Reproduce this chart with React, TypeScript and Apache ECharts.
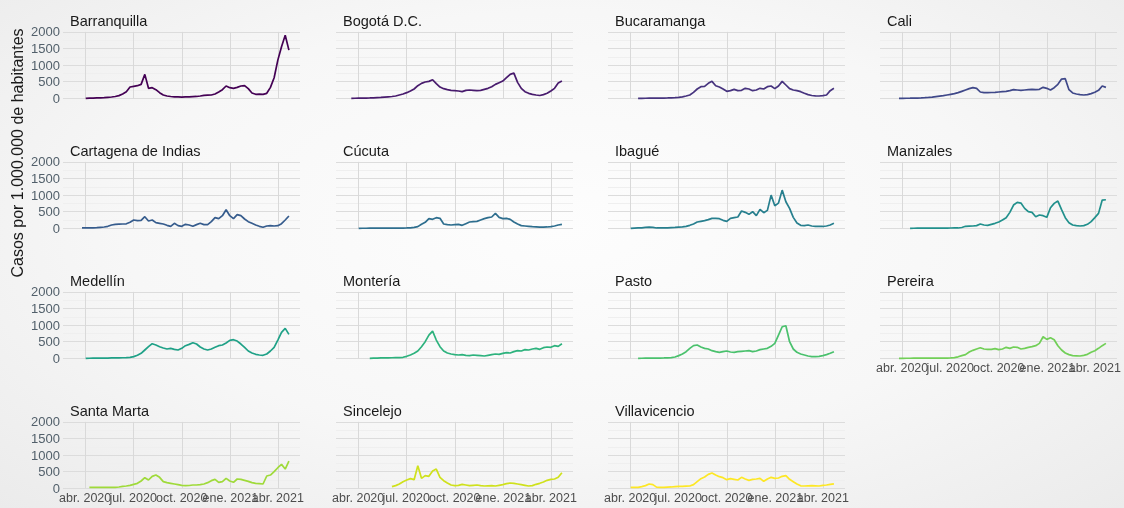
import React, { useEffect, useRef } from 'react';
import * as echarts from 'echarts';

// Weekly sampling: first date 2020-03-12, one point every 7 days (59 points, to 2021-04-22)
const START_DATE = Date.UTC(2020, 2, 12);
const STEP_MS = 7 * 86400000;
const X_MIN = Date.UTC(2020, 1, 19);
const X_MAX = Date.UTC(2021, 4, 13);
const TICK_DATES = [Date.UTC(2020, 3, 1), Date.UTC(2020, 6, 1), Date.UTC(2020, 9, 1), Date.UTC(2021, 0, 1), Date.UTC(2021, 3, 1)];
const TICK_LABELS = ['abr. 2020', 'jul. 2020', 'oct. 2020', 'ene. 2021', 'abr. 2021'];
const Y_MAX = 2000;
const Y_STEP = 500;

const CITIES = [
  'Barranquilla', 'Bogotá D.C.', 'Bucaramanga', 'Cali',
  'Cartagena de Indias', 'Cúcuta', 'Ibagué', 'Manizales',
  'Medellín', 'Montería', 'Pasto', 'Pereira',
  'Santa Marta', 'Sincelejo', 'Villavicencio',
];

const COLORS = [
  '#440154', '#481B6D', '#46337E', '#3F4889', '#365C8D', '#2E6E8E', '#277F8E', '#21908C',
  '#1FA187', '#2DB27D', '#4AC16D', '#71CF57', '#9FDA3A', '#CFE11C', '#FDE725',
];

const barranquilla = [null, null, null, 0, 5, 5, 10, 15, 20, 30, 40, 55, 80, 130, 200, 340, 360, 380, 420, 720, 300, 320, 260, 170, 100, 70, 55, 45, 40, 35, 40, 45, 50, 55, 70, 90, 95, 100, 130, 190, 260, 370, 320, 300, 330, 370, 380, 290, 160, 120, 125, 120, 150, 330, 620, 1150, 1550, 1900, 1450];
const bogota = [null, 0, 2, 4, 6, 8, 10, 15, 20, 25, 35, 45, 55, 70, 100, 130, 170, 220, 280, 380, 450, 490, 510, 560, 440, 340, 290, 260, 240, 230, 220, 200, 240, 250, 240, 230, 240, 270, 300, 350, 420, 470, 520, 620, 720, 760, 480, 300, 200, 150, 120, 100, 85, 110, 150, 220, 300, 460, 520];
const bucaramanga = [null, null, null, null, null, 0, 0, 2, 3, 4, 5, 5, 8, 10, 15, 20, 30, 45, 70, 100, 180, 280, 350, 360, 450, 510, 380, 340, 280, 210, 230, 270, 230, 240, 300, 280, 230, 250, 300, 280, 350, 370, 290, 370, 510, 400, 290, 250, 230, 200, 150, 110, 85, 75, 70, 80, 100, 230, 300];
const cali = [null, null, 0, 0, 2, 3, 5, 8, 12, 18, 25, 35, 50, 65, 80, 100, 120, 140, 170, 210, 250, 290, 320, 300, 190, 170, 170, 175, 180, 190, 200, 210, 230, 260, 250, 240, 250, 260, 270, 260, 270, 330, 300, 250, 320, 420, 580, 590, 260, 160, 130, 110, 100, 110, 140, 180, 240, 370, 330];
const cartagena = [null, null, 10, 10, 15, 15, 20, 30, 40, 60, 100, 120, 125, 130, 135, 180, 250, 230, 240, 350, 220, 250, 170, 150, 130, 90, 60, 150, 80, 60, 120, 100, 60, 110, 150, 110, 110, 200, 320, 290, 380, 560, 380, 290, 410, 380, 280, 200, 150, 100, 60, 30, 70, 80, 70, 80, 140, 250, 370];
const cucuta = [null, null, null, 0, 2, 2, 3, 3, 4, 4, 5, 5, 5, 6, 6, 8, 10, 15, 30, 50, 120, 180, 290, 270, 320, 300, 130, 110, 100, 110, 120, 90, 140, 190, 200, 210, 250, 290, 320, 340, 450, 330, 290, 300, 270, 190, 130, 80, 70, 60, 50, 45, 35, 35, 40, 50, 70, 100, 120];
const ibague = [null, null, null, 0, 5, 10, 15, 30, 35, 30, 10, 10, 10, 15, 20, 25, 35, 45, 60, 90, 130, 190, 210, 230, 260, 300, 300, 290, 240, 210, 300, 320, 340, 520, 480, 420, 500, 380, 570, 470, 540, 1000, 680, 760, 1150, 800, 600, 330, 160, 90, 80, 100, 70, 60, 55, 55, 70, 100, 150];
const manizales = [null, null, null, null, null, 0, 2, 3, 4, 5, 5, 6, 6, 7, 8, 8, 9, 10, 10, 25, 60, 65, 70, 80, 130, 100, 90, 120, 150, 190, 250, 320, 480, 700, 780, 760, 600, 500, 480, 350, 400, 380, 330, 620, 750, 820, 560, 320, 170, 100, 80, 70, 80, 120, 200, 320, 450, 850, 860];
const medellin = [null, null, null, 0, 2, 3, 4, 5, 6, 8, 10, 12, 14, 16, 20, 30, 50, 90, 150, 250, 350, 440, 400, 350, 310, 280, 300, 270, 250, 300, 380, 420, 470, 430, 340, 280, 250, 280, 330, 380, 400, 460, 540, 560, 520, 430, 330, 220, 160, 120, 100, 90, 130, 220, 330, 550, 780, 900, 720];
const monteria = [null, null, null, null, null, null, 0, 5, 8, 10, 12, 14, 16, 18, 20, 30, 60, 100, 150, 220, 350, 500, 700, 820, 550, 350, 220, 160, 130, 110, 100, 110, 90, 80, 100, 90, 80, 70, 90, 110, 130, 120, 150, 170, 160, 200, 230, 220, 260, 250, 280, 300, 270, 320, 340, 330, 380, 360, 440];
const pasto = [null, null, null, null, null, 0, 2, 3, 4, 5, 6, 8, 10, 15, 20, 40, 80, 130, 200, 300, 380, 400, 340, 300, 280, 230, 200, 180, 200, 220, 190, 180, 200, 210, 220, 230, 200, 220, 260, 280, 300, 360, 450, 700, 950, 980, 500, 280, 180, 130, 100, 70, 50, 50, 60, 80, 110, 150, 200];
const pereira = [null, null, 0, 0, 2, 2, 3, 3, 4, 4, 5, 5, 6, 6, 7, 8, 10, 20, 45, 80, 110, 190, 240, 280, 320, 280, 270, 270, 290, 260, 280, 330, 300, 340, 330, 280, 300, 330, 350, 380, 450, 650, 570, 620, 560, 380, 250, 160, 110, 80, 75, 70, 90, 120, 180, 230, 300, 380, 450];
const santaMarta = [null, null, null, null, 30, 30, 30, 25, 25, 25, 30, 30, 40, 60, 70, 90, 120, 150, 220, 320, 250, 360, 400, 330, 200, 170, 150, 130, 110, 90, 80, 85, 100, 100, 110, 130, 170, 230, 270, 180, 200, 300, 220, 180, 280, 270, 240, 210, 170, 150, 140, 130, 370, 400, 500, 620, 720, 580, 820];
const sincelejo = [null, null, null, null, null, null, null, null, null, null, null, null, 50, 80, 130, 200, 250, 290, 260, 680, 300, 380, 360, 520, 580, 330, 230, 160, 100, 80, 90, 120, 100, 80, 90, 100, 80, 70, 75, 80, 70, 90, 110, 140, 160, 150, 130, 110, 90, 70, 80, 120, 150, 190, 240, 270, 280, 330, 470];
const villavicencio = [null, null, null, 30, 30, 30, 50, 80, 130, 110, 35, 30, 30, 35, 40, 50, 55, 60, 65, 70, 110, 200, 290, 340, 420, 460, 400, 350, 320, 260, 290, 270, 250, 330, 280, 240, 270, 280, 300, 210, 280, 330, 300, 310, 360, 380, 270, 200, 130, 75, 70, 75, 80, 75, 70, 90, 100, 120, 135];

const SERIES_VALUES = [
  barranquilla, bogota, bucaramanga, cali,
  cartagena, cucuta, ibague, manizales,
  medellin, monteria, pasto, pereira,
  santaMarta, sincelejo, villavicencio,
];

const FONT = "'Liberation Sans', Arial, Helvetica, sans-serif";
const COL_LEFT = [63, 336, 608, 880];
const PANEL_W = 237;
const ROW_TOP = 31.9;
const ROW_STEP = 130;
const PANEL_H = 66.4;

export default function App() {
  const ref = useRef<HTMLDivElement>(null);
  useEffect(() => {
    if (!ref.current) return;
    const chart = echarts.init(ref.current, null, { renderer: 'svg' });
    const n = CITIES.length;
    const grids: any[] = [];
    const xAxes: any[] = [];
    const yAxes: any[] = [];
    const series: any[] = [];
    const titles: any[] = [];
    for (let k = 0; k < n; k++) {
      const row = Math.floor(k / 4);
      const col = k % 4;
      const showX = k + 4 >= n;
      grids.push({
        left: COL_LEFT[col],
        top: ROW_TOP + ROW_STEP * row,
        width: PANEL_W,
        height: PANEL_H,
        containLabel: false,
      });
      xAxes.push({
        type: 'time',
        gridIndex: k,
        min: X_MIN,
        max: X_MAX,
        axisLine: { show: false },
        axisTick: { show: false },
        splitLine: { show: false },
        axisLabel: { show: false },
      });
      yAxes.push({
        type: 'value',
        gridIndex: k,
        min: 0,
        max: Y_MAX,
        interval: Y_STEP,
        axisLine: { show: false },
        axisTick: { show: false },
        splitLine: { show: true, lineStyle: { color: '#dcdcdc', width: 1 } },
        minorTick: { show: false, splitNumber: 2 },
        minorSplitLine: { show: true, lineStyle: { color: '#efefef', width: 1 } },
        axisLabel: {
          show: col === 0,
          margin: 3,
          fontSize: 13,
          color: '#52606b',
          fontFamily: FONT,
          formatter: (v: number) => String(v),
        },
      });
      const vals = SERIES_VALUES[k];
      const data: [number, number][] = [];
      vals.forEach((v, i) => {
        if (v !== null && v !== undefined) data.push([START_DATE + i * STEP_MS, v as number]);
      });
      series.push({
        type: 'line',
        name: CITIES[k],
        xAxisIndex: k,
        yAxisIndex: k,
        data,
        showSymbol: false,
        clip: false,
        lineStyle: { color: COLORS[k], width: 1.7 },
        itemStyle: { color: COLORS[k] },
        z: 3,
        markLine: {
          silent: true,
          symbol: ['none', 'none'],
          z: 1,
          animation: false,
          lineStyle: { color: '#d9d9d9', type: 'solid', width: 1 },
          emphasis: { disabled: true },
          label: {
            show: showX,
            position: 'start',
            distance: 3,
            fontSize: 12.5,
            color: '#4d4d4d',
            fontFamily: FONT,
            formatter: (p: any) => p.name,
          },
          data: TICK_DATES.map((t, j) => ({ xAxis: t, name: TICK_LABELS[j] })),
        },
      });
      titles.push({
        text: CITIES[k],
        left: COL_LEFT[col] + 7,
        top: 13 + ROW_STEP * row,
        padding: 0,
        textStyle: { fontSize: 14.5, fontWeight: 'normal', color: '#1a1a1a', fontFamily: FONT },
      });
    }
    chart.setOption({
      animation: false,
      useUTC: true,
      backgroundColor: 'transparent',
      title: titles,
      grid: grids,
      xAxis: xAxes,
      yAxis: yAxes,
      series,
      graphic: [
        {
          type: 'text',
          x: 17,
          y: 153,
          rotation: Math.PI / 2,
          style: {
            text: 'Casos por 1.000.000 de habitantes',
            fontSize: 16,
            fontFamily: FONT,
            fill: '#1a1a1a',
            textAlign: 'center',
            textVerticalAlign: 'middle',
          },
        },
      ],
    });
    return () => chart.dispose();
  }, []);
  return (
    <div
      style={{
        position: 'fixed',
        left: 0,
        top: 0,
        width: 1124,
        height: 508,
        background: 'radial-gradient(ellipse at 50% 45%, #fdfdfd 0%, #f7f7f7 55%, #ebebeb 100%)',
      }}
    >
      <div ref={ref} style={{ width: 1124, height: 508 }} />
    </div>
  );
}
